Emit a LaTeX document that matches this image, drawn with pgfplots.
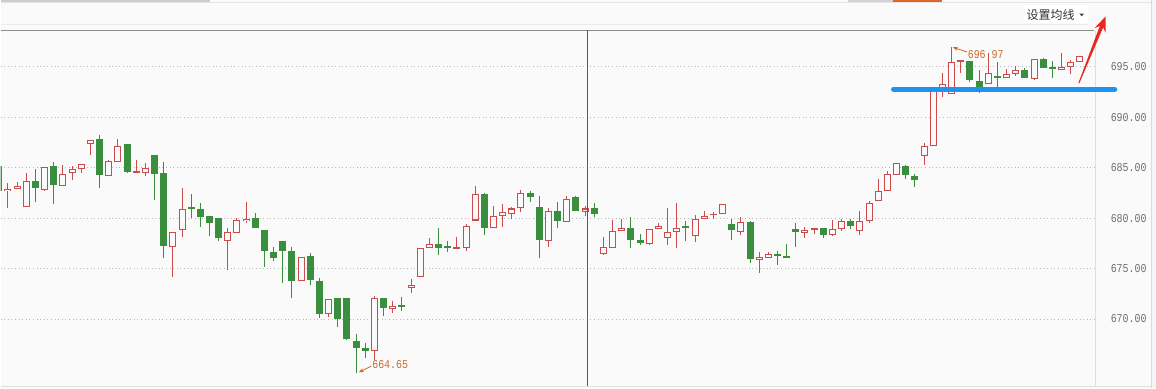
\documentclass[border=0pt]{standalone}
\usepackage{pgfplots}
\pgfplotsset{compat=1.18}
\usepackage{pgfplotstable}
\usetikzlibrary{arrows.meta}
\usepackage{fontspec}
\setmainfont{Liberation Sans}
\newfontfamily\axfont[FakeStretch=0.83]{Liberation Mono}
\newfontfamily\cjk{Noto Sans CJK SC}
\definecolor{bg}{HTML}{FAFAFA}
\definecolor{cred}{HTML}{CD4B4B}
\definecolor{cgreen}{HTML}{3A8F3E}
\definecolor{ann}{HTML}{CC6A28}
\definecolor{hl}{HTML}{1E94F0}
\definecolor{arr}{HTML}{E8281E}
\definecolor{tab}{HTML}{D9662A}
\definecolor{lbl}{HTML}{6E6E6E}

\pgfplotstableread{
i o h l c
1 682.66 683.5 681.0 682.9
2 682.9 683.55 682.9 683.2
3 681.1 684.5 681.1 683.7
5 682.8 685.1 682.7 685.1
7 683.2 685.26 683.2 684.4
8 684.5 685.2 683.75 684.9
9 684.9 685.4 684.47 685.4
10 687.38 687.77 686.25 687.77
12 684.2 685.73 684.2 685.63
13 685.56 687.8 685.56 687.18
15 684.47 685.8 684.47 684.64
16 684.47 685.43 684.2 685.0
19 677.18 678.66 674.17 678.66
20 678.86 683.02 678.14 680.94
25 677.77 678.99 674.9 678.6
26 678.56 680.0 678.56 679.78
27 679.72 681.56 679.55 679.95
33 673.74 676.18 673.74 676.18
36 670.54 672.03 670.2 672.03
41 666.8 672.26 665.92 672.13
43 671.03 671.83 670.64 671.33
45 673.08 674.0 672.58 673.35
46 674.21 677.08 674.21 677.08
47 677.08 677.98 677.08 677.48
50 676.98 678.17 676.98 677.08
51 677.05 679.46 676.76 679.26
52 679.76 683.16 679.76 682.43
54 678.97 681.24 678.97 680.25
55 680.25 681.44 679.07 680.65
56 680.45 681.14 679.86 680.95
57 680.95 682.83 680.65 682.53
60 677.68 681.04 677.18 680.75
62 679.66 682.14 679.66 681.94
64 680.65 681.24 680.25 680.95
66 676.45 678.16 676.38 677.17
67 677.04 679.85 677.04 678.76
68 678.76 679.95 678.76 679.06
71 677.47 678.96 677.37 678.96
72 678.96 679.55 678.96 679.26
73 678.06 681.0 677.37 678.66
74 678.66 681.53 677.04 679.06
76 678.26 680.34 677.67 679.95
77 679.95 680.74 679.95 680.25
78 680.3 680.64 679.95 680.35
79 680.44 681.43 680.44 681.43
81 678.63 680.15 678.36 679.65
83 675.85 676.68 674.57 676.11
84 676.08 676.68 676.08 676.48
88 678.56 679.15 678.07 678.86
89 678.86 679.06 678.45 679.06
91 678.33 679.85 678.23 678.96
92 678.96 679.95 678.76 679.75
94 678.76 680.74 678.36 679.75
95 679.75 681.72 679.55 681.53
96 681.72 683.91 681.72 682.72
97 682.72 684.7 682.72 684.4
98 684.3 685.49 684.3 685.49
101 686.18 687.47 685.29 687.17
102 687.17 692.55 687.17 692.55
103 692.8 694.4 692.0 693.3
104 692.25 696.97 692.25 695.49
105 695.49 695.62 694.4 695.62
108 693.24 696.38 693.24 694.4
110 693.9 694.8 693.9 694.3
111 694.3 695.09 694.1 694.7
113 693.77 695.79 693.7 695.79
116 694.7 696.38 694.7 694.99
117 694.99 695.69 694.3 695.49
118 695.49 696.09 695.49 696.09
}\redtab

\pgfplotstableread{
i o h l c
0 685.2 685.3 682.4 682.7
4 683.7 684.83 681.6 682.95
6 685.13 685.6 681.4 683.28
11 687.8 688.27 682.95 684.27
14 687.31 687.31 684.44 684.57
17 686.22 686.22 681.77 684.37
18 684.44 685.6 676.06 677.24
21 681.0 682.36 680.0 680.9
22 680.87 681.53 679.12 680.1
23 680.18 680.18 678.2 679.52
24 679.98 680.05 677.74 678.03
28 680.05 680.47 679.03 679.03
29 678.8 678.86 675.16 676.78
30 676.68 677.17 675.76 676.05
31 677.7 677.7 673.6 676.78
32 676.7 677.17 672.13 673.77
34 676.2 676.5 673.4 673.87
35 673.8 674.1 670.11 670.5
37 672.06 672.06 669.25 670.01
38 672.06 672.06 667.9 667.97
39 667.87 668.56 664.65 667.14
40 667.1 667.6 666.15 666.87
42 672.13 672.13 670.3 671.11
44 671.25 672.16 670.8 671.2
48 677.48 678.97 676.39 677.05
49 677.1 677.71 676.66 677.05
53 682.43 682.53 678.37 679.06
58 682.53 682.73 681.64 682.04
59 681.14 682.23 676.09 677.84
61 680.75 681.64 679.06 679.72
63 682.04 682.23 680.72 680.72
65 680.95 681.54 680.06 680.42
69 679.06 680.15 677.04 677.84
70 677.87 678.46 677.37 677.54
75 679.1 679.75 677.77 679.06
80 679.45 679.95 677.83 678.79
82 679.66 679.7 675.59 675.95
85 676.48 676.78 675.36 676.25
86 676.18 677.47 676.05 676.05
87 678.96 679.55 677.14 678.66
90 679.06 679.06 678.06 678.36
93 679.75 679.95 678.96 679.26
99 685.19 685.29 683.91 684.3
100 684.2 684.4 683.11 683.8
106 695.59 695.59 693.47 693.64
107 693.6 694.7 692.42 692.98
109 693.95 695.49 692.9 693.9
112 694.7 694.9 693.9 693.9
114 695.79 695.89 694.9 694.9
115 694.99 695.59 693.9 694.8
}\greentab

\pgfplotsset{
  candle/.style 2 args={draw=none, mark=none, forget plot,
    error bars/.cd, y dir=plus, y explicit, error mark=none,
    error bar style={draw=#1, line width=#2, line cap=butt}},
}

\begin{document}
\begin{tikzpicture}[x=1pt,y=1pt]
\fill[bg] (0,0) rectangle (1156,388);
% toolbar decorations
\fill[gray!40] (0,388) rectangle (210,386.7);
\fill[gray!35] (848,388) rectangle (893,386.7);
\fill[tab] (893,388) rectangle (942,386.7);
\draw[black!10, line width=0.8pt] (0,385.7) -- (1151,385.7);
\draw[black!8, line width=0.8pt] (0,363.7) -- (1088,363.7);
\fill[white] (1024,383) rectangle (1088,365);
\node[font=\cjk\fontsize{12}{14}\selectfont, text=black!80, inner sep=0pt] at (1051,373.5) {设置均线};
\fill[black!75] (1079.8,374.8) -- (1084.4,374.8) -- (1082.1,372.2) -- cycle;

\begin{axis}[at={(0pt,2pt)}, anchor=south west, scale only axis,
  width=1095pt, height=356pt,
  xmin=0.204, xmax=119.61, ymin=663.35, ymax=698.59,
  axis line style={draw=none},
  xtick=\empty, ytick={670,675,680,685,690,695},
  yticklabel pos=right, tick style={draw=none}, major tick length=0pt,
  ymajorgrids, grid style={draw=black!28, line width=0.8pt, dash pattern=on 1pt off 2.6pt},
  /pgf/number format/assume math mode=true,
  yticklabel={\pgfmathprintnumber[fixed,fixed zerofill,precision=2]{\tick}},
  yticklabel style={anchor=west, inner sep=0pt, xshift=16pt,
    font=\axfont\fontsize{12}{14}\selectfont, text=lbl},
  ]
% red candles
\addplot[candle={cred}{1pt}] table[x=i, y=l, y error expr=\thisrow{h}-\thisrow{l}] {\redtab};
\addplot[candle={cred}{7pt}] table[x=i, y=o, y error expr={max(\thisrow{c}-\thisrow{o},0.12)}] {\redtab};
\addplot[candle={bg}{5pt}] table[x=i, y expr=\thisrow{o}+0.1, y error expr={max(\thisrow{c}-\thisrow{o}-0.2,0)}] {\redtab};
% green candles
\addplot[candle={cgreen}{1pt}] table[x=i, y=l, y error expr=\thisrow{h}-\thisrow{l}] {\greentab};
\addplot[candle={cgreen}{7pt}] table[x=i, y=c, y error expr={max(\thisrow{o}-\thisrow{c},0.18)}] {\greentab};
% annotations
\draw[ann, line width=0.8pt, -{Stealth[length=5pt,width=4pt]}] (axis cs:105.7,696.45) -- (axis cs:104.15,696.93);
\node[anchor=west, inner sep=0pt, text=ann, font=\axfont\fontsize{12}{14}\selectfont] at (axis cs:105.75,696.25) {696.97};
\draw[ann, line width=0.8pt, -{Stealth[length=5pt,width=4pt]}] (axis cs:40.65,665.33) -- (axis cs:39.3,664.72);
\node[anchor=west, inner sep=0pt, text=ann, font=\axfont\fontsize{12}{14}\selectfont] at (axis cs:40.75,665.52) {664.65};
\end{axis}

% frame lines
\draw[black!45, line width=1.3pt] (0,358) -- (1094,358);
\draw[black!13, line width=1pt] (1095.5,358) -- (1095.5,2);
\draw[black!12, line width=1pt] (0,1.5) -- (1156,1.5);
\fill[black!4] (1152,0) rectangle (1156,388);
\draw[black!14, line width=1pt] (1151.5,388) -- (1151.5,0);
% crosshair
\draw[black!65, line width=1pt] (587,358) -- (587,2.5);
% blue highlight line
\draw[hl, line width=5.6pt, line cap=round] (894,299) -- (1115,299);
% red arrow
\fill[arr] (1078.84,305.49) -- (1100.24,362.45) -- (1094.85,360.29) -- (1106,372) -- (1105.99,355.83) -- (1103.58,361.11) -- (1079.76,305.11) -- cycle;
\end{tikzpicture}
\end{document}
